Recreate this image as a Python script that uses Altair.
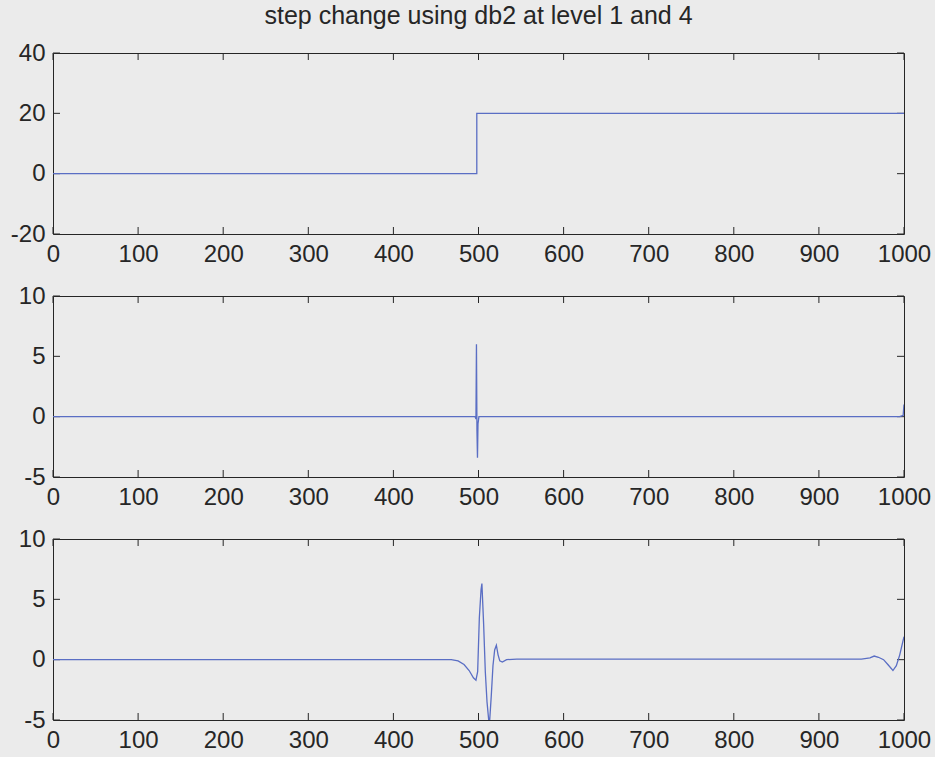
import altair as alt
import pandas as pd

# Signal: step change from 0 to 20 at sample ~500
sig_t = [0, 498, 498, 1000]
sig_v = [0, 0, 20, 20]

# Level-1 detail coefficients (db2)
d1_t = [0, 496, 497, 497.6, 498.2, 498.8, 499.4, 500.5, 995, 999, 1000]
d1_v = [0, 0, -0.2, 6.0, -1.2, -3.4, -0.6, 0, 0, 0.1, 1.0]

# Level-4 detail coefficients (db2)
d4_t = [0, 468, 476, 483, 489, 494, 497, 499, 501, 503, 504, 506, 508, 510,
        512, 513, 515, 517, 519, 521, 523, 525, 528, 533, 545, 950, 960, 965,
        970, 976, 981, 987, 991, 995, 1000]
d4_v = [0, 0, -0.1, -0.4, -0.9, -1.5, -1.7, -1.0, 3.5, 5.8, 6.3, 3.0, -1.0, -3.5,
        -5.0, -5.2, -3.0, -0.5, 0.8, 1.2, 0.4, -0.1, -0.2, 0, 0.05, 0.05, 0.15, 0.3,
        0.2, 0.0, -0.4, -0.9, -0.5, 0.4, 1.9]

x_ticks = [0, 100, 200, 300, 400, 500, 600, 700, 800, 900, 1000]
y_ticks_sig = [-20, 0, 20, 40]
y_ticks_det = [-5, 0, 5, 10]

TITLE = "step change using db2 at level 1 and 4"

W, H = 851, 181
TICK = 7
LINE = "#5a6ec4"
INK = "#262626"
BG = "#ebebeb"
FONT = "Liberation Sans"
# plain hyphen-minus in tick labels
PLAIN = "'' + datum.value"


def panel(ts, vs, ydom, yticks):
    df = pd.DataFrame({"t": ts, "v": vs, "i": list(range(len(ts)))})
    xt = pd.DataFrame({"t": x_ticks})
    yt = pd.DataFrame({"v": yticks})

    xsc = alt.Scale(domain=[0, 1000], nice=False, zero=False)
    ysc = alt.Scale(domain=ydom, nice=False, zero=False)
    xax = alt.Axis(values=x_ticks, title=None, labelExpr=PLAIN)
    yax = alt.Axis(values=yticks, title=None, labelExpr=PLAIN)
    xenc = alt.X("t:Q", scale=xsc, axis=xax)
    yenc = alt.Y("v:Q", scale=ysc, axis=yax)

    line = alt.Chart(df).mark_line(color=LINE, strokeWidth=1.3, clip=True).encode(
        x=xenc, y=yenc, order="i:Q"
    )
    # inward tick marks on all four sides of the box
    top = alt.Chart(xt).mark_rule(color=INK, strokeWidth=1).encode(
        x=xenc, y=alt.value(0), y2=alt.value(TICK)
    )
    bot = alt.Chart(xt).mark_rule(color=INK, strokeWidth=1).encode(
        x=xenc, y=alt.value(H), y2=alt.value(H - TICK)
    )
    left = alt.Chart(yt).mark_rule(color=INK, strokeWidth=1).encode(
        y=yenc, x=alt.value(0), x2=alt.value(TICK)
    )
    right = alt.Chart(yt).mark_rule(color=INK, strokeWidth=1).encode(
        y=yenc, x=alt.value(W), x2=alt.value(W - TICK)
    )
    return alt.layer(top, bot, left, right, line).properties(width=W, height=H)


p1 = panel(sig_t, sig_v, [-20, 40], y_ticks_sig).properties(
    title=alt.TitleParams(
        TITLE, font=FONT, fontSize=25, fontWeight="normal", color=INK,
        anchor="middle", offset=12
    )
)
p2 = panel(d1_t, d1_v, [-5, 10], y_ticks_det)
p3 = panel(d4_t, d4_v, [-5, 10], y_ticks_det)

chart = (
    alt.vconcat(p1, p2, p3, spacing=62, bounds="flush")
    .configure(background=BG, padding={"left": 9, "top": 3, "right": 3, "bottom": 4})
    .configure_view(stroke=INK, strokeWidth=1, fill=BG)
    .configure_axis(
        labelFont=FONT, labelFontSize=24, labelColor=INK, ticks=False,
        domain=False, grid=False, labelPadding=8, labelFlush=False,
        labelOverlap=False
    )
)

chart.save("out.html", embed_options={"renderer": "svg", "actions": False})
